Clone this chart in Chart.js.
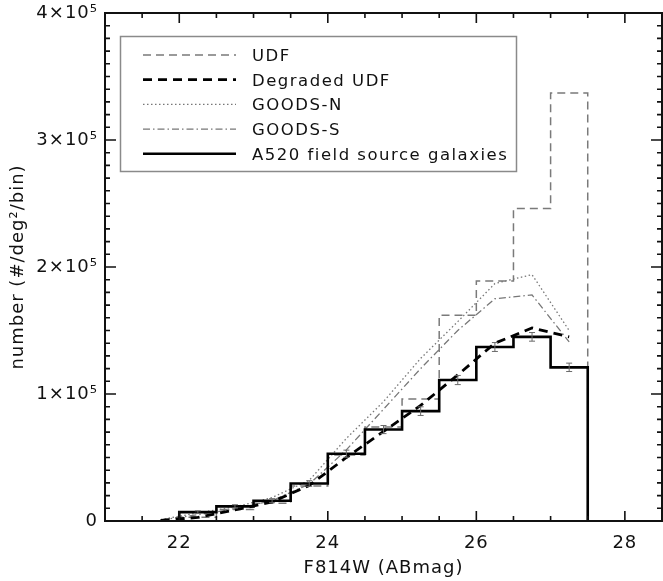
<!DOCTYPE html>
<html>
<head>
<meta charset="utf-8">
<script src="https://cdn.jsdelivr.net/npm/chart.js@4/dist/chart.umd.min.js"></script>
<style>
  html, body { margin: 0; padding: 0; background: #fff; }
</style>
</head>
<body>
<canvas id="c" width="663" height="581"></canvas>
<script>
// bin edges in F814W (ABmag)
const binEdges = [22, 22.5, 23, 23.5, 24, 24.5, 25, 25.5, 26, 26.5, 27, 27.5];
// histograms, one value per bin (units of 1e3 #/deg^2/bin)
const udf = [3, 9, 14, 27.5, 52, 74, 96, 162, 189, 246, 337];
const a520 = [7, 11.5, 16, 29.5, 53, 72, 86.5, 111, 137, 145, 121];
const a520Err = [1, 1.3, 1.6, 2.2, 2.8, 3.2, 3.4, 3.6, 3.5, 3.4, 3.3];
// curves sampled at bin centres
const binCenters = [21.75, 22.25, 22.75, 23.25, 23.75, 24.25, 24.75, 25.25, 25.75, 26.25, 26.75, 27.25];
const degradedUdf = [0.5, 2.8, 8.7, 15, 28, 50, 70.5, 91, 115, 140, 152, 145];
const goodsN = [1, 6.5, 11, 18.5, 32, 65, 94, 128, 157, 187, 194, 150];
const goodsS = [0.8, 5, 9.5, 16, 29, 56, 88, 120, 150, 175, 178, 141];
// tick labels
const xTickLabels = ['22', '24', '26', '28'];
const yTickLabels = ['0', '1×10⁵', '2×10⁵', '3×10⁵', '4×10⁵'];

const FONT = 'DejaVu Sans';
const INK = '#111';

// histogram -> points for a stepped line (vertical first, then across)
function histPoints(vals) {
  const pts = [{ x: binEdges[0], y: 0 }];
  vals.forEach((v, i) => pts.push({ x: binEdges[i + 1], y: v }));
  pts.push({ x: binEdges[binEdges.length - 1], y: 0 });
  return pts;
}
function curvePoints(vals) {
  return vals.map((v, i) => ({ x: binCenters[i], y: v }));
}

// no extra room for edge labels: plot box is fixed
function noEdgePadding(s) {
  s.paddingLeft = 0; s.paddingRight = 0;
  s.paddingTop = 0; s.paddingBottom = 0;
}

// ticks pointing inwards on all four sides, plus the frame
const frameTicks = {
  id: 'frameTicks',
  beforeDraw(chart) {
    chart.ctx.letterSpacing = '1px';
  },
  afterDraw(chart) {
    const { ctx, chartArea: a, scales: { x, y } } = chart;
    ctx.save();
    ctx.strokeStyle = INK;
    ctx.lineWidth = 1.6;
    ctx.beginPath();
    x.ticks.forEach(t => {
      const px = x.getPixelForValue(t.value);
      const len = t.label ? 10 : 5;
      ctx.moveTo(px, a.bottom); ctx.lineTo(px, a.bottom - len);
      ctx.moveTo(px, a.top); ctx.lineTo(px, a.top + len);
    });
    y.ticks.forEach(t => {
      const py = y.getPixelForValue(t.value);
      const len = t.label ? 11 : 5;
      ctx.moveTo(a.left, py); ctx.lineTo(a.left + len, py);
      ctx.moveTo(a.right, py); ctx.lineTo(a.right - len, py);
    });
    ctx.stroke();
    ctx.lineWidth = 2;
    ctx.strokeRect(a.left, a.top, a.right - a.left, a.bottom - a.top);
    ctx.restore();
  }
};

// error bars on the A520 histogram
const errorBars = {
  id: 'errorBars',
  afterDatasetsDraw(chart) {
    const { ctx, scales: { x, y } } = chart;
    ctx.save();
    ctx.strokeStyle = '#6a6a6a';
    ctx.lineWidth = 1;
    ctx.setLineDash([]);
    ctx.beginPath();
    a520.forEach((v, i) => {
      const px = x.getPixelForValue((binEdges[i] + binEdges[i + 1]) / 2);
      const lo = y.getPixelForValue(v - a520Err[i]);
      const hi = y.getPixelForValue(v + a520Err[i]);
      ctx.moveTo(px, lo); ctx.lineTo(px, hi);
      ctx.moveTo(px - 3, lo); ctx.lineTo(px + 3, lo);
      ctx.moveTo(px - 3, hi); ctx.lineTo(px + 3, hi);
    });
    ctx.stroke();
    ctx.restore();
  }
};

// boxed legend inside the plot
const boxLegend = {
  id: 'boxLegend',
  afterDraw(chart) {
    const ctx = chart.ctx;
    const box = { x: 120.5, y: 36.5, w: 396, h: 135 };
    ctx.save();
    ctx.strokeStyle = '#8a8a8a';
    ctx.lineWidth = 1.5;
    ctx.setLineDash([]);
    ctx.strokeRect(box.x, box.y, box.w, box.h);
    ctx.font = '16.5px "' + FONT + '"';
    ctx.letterSpacing = '1.5px';
    ctx.textBaseline = 'alphabetic';
    ctx.fillStyle = INK;
    chart.data.datasets.forEach((ds, i) => {
      const ry = box.y + 18.5 + i * 24.7;
      ctx.strokeStyle = ds.borderColor;
      ctx.lineWidth = ds.borderWidth;
      ctx.setLineDash(ds.borderDash || []);
      ctx.beginPath();
      ctx.moveTo(143, ry); ctx.lineTo(236, ry);
      ctx.stroke();
      ctx.fillText(ds.label, 252, ry + 6);
    });
    ctx.restore();
  }
};

new Chart(document.getElementById('c'), {
  type: 'line',
  data: {
    datasets: [
      { label: 'UDF', data: histPoints(udf), stepped: 'after',
        borderColor: '#7a7a7a', borderWidth: 1.5, borderDash: [8, 5], order: 4 },
      { label: 'Degraded UDF', data: curvePoints(degradedUdf),
        borderColor: '#000', borderWidth: 2.8, borderDash: [9, 6], order: 1 },
      { label: 'GOODS-N', data: curvePoints(goodsN),
        borderColor: '#777', borderWidth: 1.3, borderDash: [1.5, 2.5], order: 3 },
      { label: 'GOODS-S', data: curvePoints(goodsS),
        borderColor: '#777', borderWidth: 1.3, borderDash: [7, 3, 1.5, 3], order: 2 },
      { label: 'A520 field source galaxies', data: histPoints(a520), stepped: 'after',
        borderColor: '#000', borderWidth: 2.6, order: 0 }
    ]
  },
  options: {
    responsive: false,
    animation: false,
    layout: { padding: { top: 13, right: 1, left: 0, bottom: 0 } },
    elements: { point: { radius: 0 }, line: { tension: 0, fill: false } },
    plugins: { legend: { display: false }, tooltip: { enabled: false } },
    scales: {
      x: {
        type: 'linear', min: 21, max: 28.5,
        grid: { display: false, drawTicks: false },
        border: { display: false },
        afterFit(s) { s.height = 60; noEdgePadding(s); },
        ticks: {
          stepSize: 0.5, autoSkip: false, maxRotation: 0, padding: 12,
          color: INK, font: { family: FONT, size: 18 },
          callback: v => xTickLabels.includes(String(v)) ? String(v) : ''
        },
        title: {
          display: true, text: 'F814W (ABmag)', color: INK,
          font: { family: FONT, size: 18 }, padding: { top: 0, bottom: 2 }
        }
      },
      y: {
        type: 'linear', min: 0, max: 400,
        grid: { display: false, drawTicks: false },
        border: { display: false },
        afterFit(s) { s.width = 105; noEdgePadding(s); },
        ticks: {
          stepSize: 10, autoSkip: false, padding: 7,
          color: INK, font: { family: FONT, size: 18 },
          callback: v => v % 100 === 0 ? yTickLabels[v / 100] : ''
        },
        title: {
          display: true, text: 'number (#/deg²/bin)', color: INK,
          font: { family: FONT, size: 18 }, padding: { top: 8, bottom: 0 }
        }
      }
    }
  },
  plugins: [frameTicks, errorBars, boxLegend]
});
</script>
</body>
</html>
